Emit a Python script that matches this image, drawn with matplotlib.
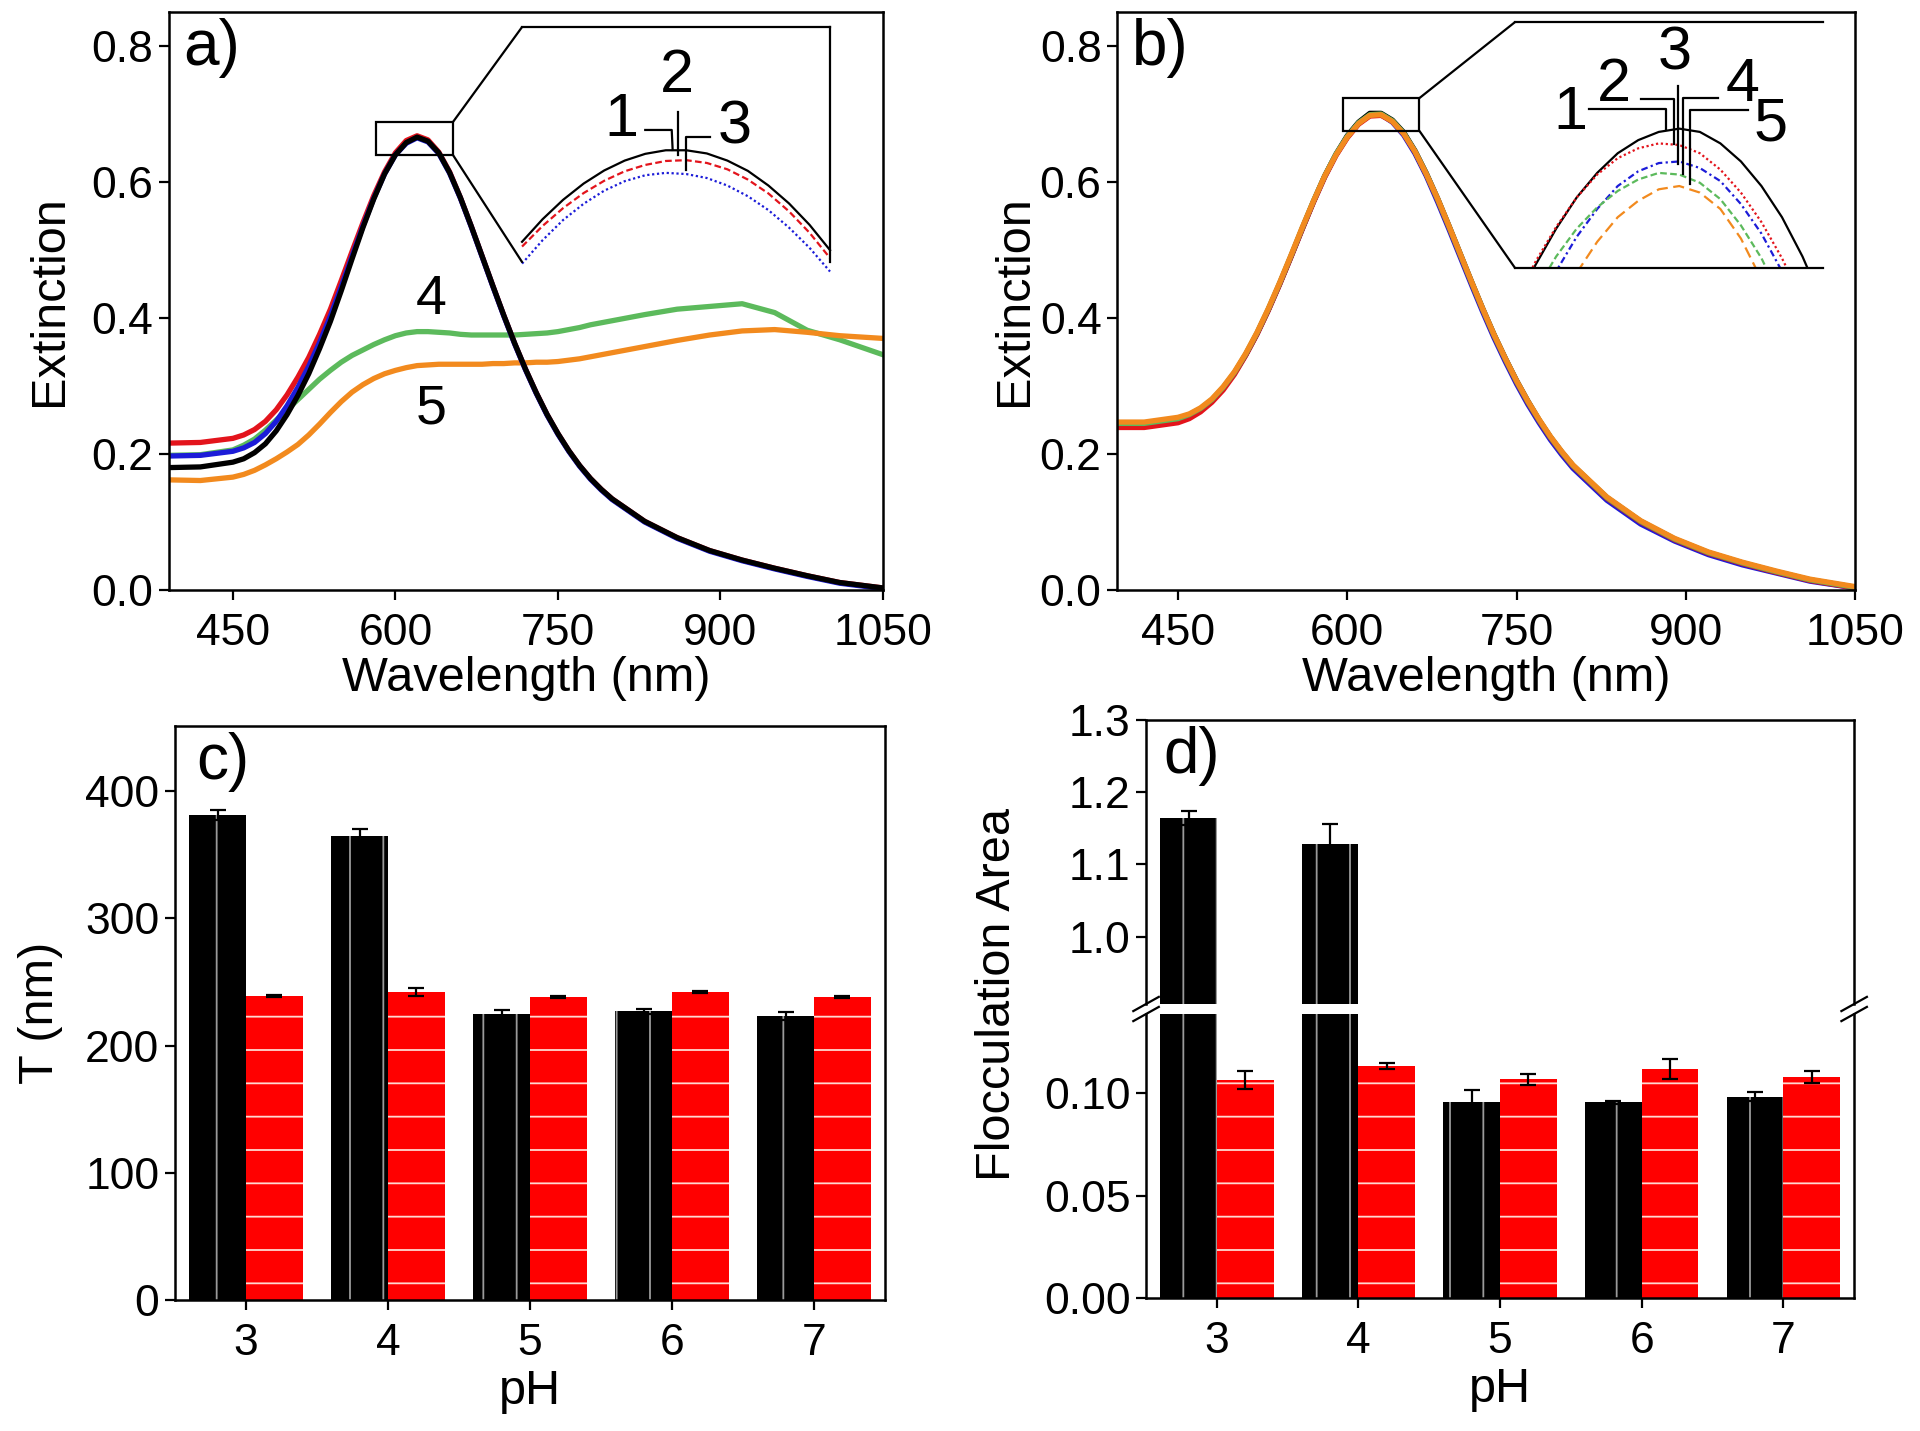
import numpy as np
import matplotlib.pyplot as plt
from matplotlib.patches import Rectangle, ConnectionPatch

plt.rcParams['font.family'] = ['Liberation Sans', 'DejaVu Sans']
plt.rcParams['hatch.linewidth'] = 0.65

# ---------------- spectra (wavelength grid, nm) ----------------
wl = [390, 420, 450, 460, 470, 480, 490, 500, 510, 520, 530, 540, 550, 560, 570, 580,
      590, 600, 610, 620, 630, 640, 650, 660, 670, 680, 690, 700, 710, 720, 730, 740,
      750, 760, 770, 780, 790, 800, 830, 860, 890, 920, 950, 980, 1010, 1050]

# panel a
a1 = [.180, .181, .188, .193, .202, .215, .234, .258, .286, .318, .355, .395, .440, .487, .533, .575,
      .612, .640, .658, .666, .660, .643, .614, .577, .535, .491, .447, .404, .363, .325, .290, .258,
      .230, .205, .183, .164, .148, .134, .101, .077, .058, .044, .032, .021, .011, .003]
a2 = [.216, .217, .223, .228, .236, .248, .265, .287, .313, .342, .376, .413, .455, .498, .540, .580,
      .615, .643, .661, .668, .662, .644, .615, .577, .535, .491, .447, .404, .363, .325, .290, .258,
      .230, .205, .183, .164, .148, .134, .101, .077, .058, .044, .032, .021, .011, .003]
a3 = [.197, .198, .204, .209, .217, .230, .248, .271, .298, .329, .364, .403, .446, .491, .535, .576,
      .612, .640, .657, .665, .659, .642, .613, .576, .534, .490, .446, .403, .362, .324, .289, .257,
      .229, .204, .182, .163, .147, .133, .100, .076, .057, .043, .031, .020, .010, .002]
a4 = [.198, .199, .206, .213, .222, .235, .250, .265, .280, .295, .310, .323, .335, .345, .353, .361,
      .368, .374, .378, .380, .380, .379, .378, .376, .375, .375, .375, .375, .375, .376, .377, .378,
      .380, .383, .386, .390, .393, .396, .405, .413, .417, .421, .408, .382, .368, .346]
a5 = [.162, .161, .166, .170, .176, .184, .193, .203, .214, .228, .244, .261, .277, .291, .302, .311,
      .318, .323, .327, .330, .331, .332, .332, .332, .332, .332, .333, .333, .334, .334, .335, .335,
      .336, .338, .340, .343, .346, .349, .358, .367, .375, .381, .383, .379, .374, .370]

# panel b
b1 = [.244, .244, .251, .257, .266, .279, .297, .319, .346, .377, .412, .450, .490, .531, .571, .609,
      .641, .668, .688, .701, .701, .691, .673, .646, .613, .576, .536, .495, .454, .414, .376, .341,
      .308, .278, .250, .225, .203, .183, .136, .101, .075, .055, .040, .027, .015, .004]
b2 = [.239, .239, .246, .252, .262, .276, .294, .317, .345, .376, .411, .449, .489, .530, .570, .607,
      .639, .665, .685, .697, .698, .689, .671, .644, .611, .574, .534, .493, .452, .412, .374, .339,
      .306, .276, .249, .224, .202, .182, .135, .100, .074, .054, .039, .026, .014, .003]
b3 = [.244, .244, .251, .257, .266, .279, .297, .319, .346, .377, .412, .450, .490, .531, .571, .608,
      .640, .666, .686, .698, .699, .688, .669, .642, .609, .571, .531, .490, .449, .409, .371, .336,
      .303, .273, .246, .221, .199, .179, .132, .097, .072, .052, .037, .025, .013, .003]
b4 = [.245, .245, .252, .258, .267, .280, .298, .320, .347, .378, .413, .451, .491, .532, .572, .609,
      .641, .667, .687, .699, .700, .690, .672, .645, .612, .575, .535, .494, .453, .413, .375, .340,
      .307, .277, .250, .225, .203, .183, .136, .101, .075, .055, .040, .027, .015, .004]
b5 = [.247, .247, .254, .259, .268, .281, .299, .321, .348, .379, .414, .452, .492, .533, .572, .609,
      .640, .666, .686, .698, .699, .689, .671, .645, .612, .576, .536, .495, .454, .414, .376, .341,
      .308, .278, .251, .226, .204, .184, .137, .102, .076, .056, .041, .028, .016, .005]

# zoomed peak regions (insets)
wl_ia = [580, 585, 590, 595, 600, 605, 610, 615, 620, 625, 630, 635, 640, 645, 650, 655]
ia1 = [.6395, .6452, .6501, .6542, .6575, .6600, .6617, .6626, .6626, .6618, .6600, .6574, .6537, .6492, .6438, .6374]
ia2 = [.6383, .6435, .6480, .6518, .6549, .6573, .6589, .6599, .6601, .6594, .6578, .6552, .6517, .6472, .6418, .6354]
ia3 = [.6340, .6399, .6450, .6491, .6524, .6548, .6563, .6569, .6566, .6556, .6537, .6510, .6475, .6431, .6380, .6320]

wl_ib = [592, 596, 600, 604, 608, 612, 616, 620, 624, 628, 632, 636, 640, 644, 648, 652]
ib1 = [.6857, .6882, .6904, .6923, .6938, .6950, .6958, .6963, .6965, .6963, .6956, .6945, .6930, .6911, .6887, .6858]
ib2 = [.6859, .6884, .6905, .6923, .6937, .6947, .6953, .6956, .6955, .6950, .6940, .6926, .6908, .6886, .6860, .6829]
ib3 = [.6823, .6852, .6878, .6899, .6916, .6930, .6939, .6944, .6945, .6941, .6933, .6919, .6901, .6878, .6849, .6816]
ib4 = [.6843, .6866, .6887, .6904, .6917, .6927, .6934, .6938, .6937, .6932, .6922, .6906, .6886, .6860, .6829, .6793]
ib5 = [.6794, .6826, .6853, .6877, .6896, .6911, .6921, .6928, .6930, .6926, .6916, .6898, .6873, .6841, .6802, .6756]

# ---------------- bar data ----------------
ph = [3, 4, 5, 6, 7]
gamma_blk = [381, 365, 225, 227, 223]
gamma_blk_err = [4, 5, 3, 2, 3]
gamma_red = [239, 242, 238, 242, 238]
gamma_red_err = [1, 3, 1, 1, 1]
floc_blk = [1.164, 1.129, 0.0955, 0.0955, 0.0982]
floc_blk_err = [0.010, 0.027, 0.006, 0.0008, 0.0023]
floc_red = [0.1063, 0.1131, 0.1066, 0.1117, 0.1078]
floc_red_err = [0.0045, 0.0015, 0.0025, 0.005, 0.0027]

col = {'k': 'black', 'r': '#e3141c', 'b': '#1c1cd8', 'g': '#5cba5c', 'o': '#f28a1e'}
FS_TICK, FS_LAB, FS_PANEL, FS_NUM = 16, 17.5, 23, 22

fig = plt.figure(figsize=(9.6, 7.155), dpi=200)


def style(ax):
    ax.tick_params(direction='out', length=3.6, width=0.8, labelsize=FS_TICK,
                   top=False, right=False)
    ax.tick_params(axis='y', pad=2)
    ax.tick_params(axis='x', pad=4.5)
    for s in ax.spines.values():
        s.set_linewidth(0.9)


def frame_only(ax, show):
    ax.set_facecolor('none')
    ax.set_xticks([])
    ax.set_yticks([])
    for k, s in ax.spines.items():
        s.set_visible(k in show)
        s.set_linewidth(0.8)


# ---------------- a) ----------------
ax_a = fig.add_axes([0.0880, 0.5877, 0.3719, 0.4039])
style(ax_a)
for y, c in [(a4, col['g']), (a5, col['o']), (a2, col['r']), (a3, col['b']), (a1, col['k'])]:
    ax_a.plot(wl, y, color=c, lw=1.9)
ax_a.set_xlim(391, 1050)
ax_a.set_ylim(0, 0.85)
ax_a.set_xticks([450, 600, 750, 900, 1050])
ax_a.set_yticks([0, 0.2, 0.4, 0.6, 0.8])
ax_a.set_yticklabels(['0.0', '0.2', '0.4', '0.6', '0.8'])
ax_a.set_xlabel('Wavelength (nm)', fontsize=FS_LAB, labelpad=1)
ax_a.set_ylabel('Extinction', fontsize=FS_LAB, labelpad=7)
ax_a.text(0.02, 0.99, 'a)', transform=ax_a.transAxes, ha='left', va='top', fontsize=FS_PANEL)
ax_a.text(633, 0.426, '4', ha='center', va='center', fontsize=20)
ax_a.text(633, 0.265, '5', ha='center', va='center', fontsize=20)
ax_a.add_patch(Rectangle((582, 0.640), 71, 0.048, fill=False, lw=0.8, zorder=5))

ins_a = fig.add_axes([0.2719, 0.8169, 0.1604, 0.1642])
frame_only(ins_a, ('top', 'right'))
ins_a.plot(wl_ia, ia1, color='black', lw=0.8, clip_on=False)
ins_a.plot(wl_ia, ia2, color=col['r'], lw=0.8, ls=(0, (3, 1.5)), clip_on=False)
ins_a.plot(wl_ia, ia3, color=col['b'], lw=0.8, ls=(0, (1, 1.2)), clip_on=False)
ins_a.set_xlim(580, 655)
ins_a.set_ylim(0.6344, 0.6937)
for xy, t in [((0.324, 0.604), '1'), ((0.502, 0.79), '2'), ((0.692, 0.570), '3')]:
    ins_a.text(*xy, t, transform=ins_a.transAxes, ha='center', va='center', fontsize=FS_NUM)
for xs, ys in [([0.40, 0.486, 0.489], [0.562, 0.562, 0.477]),
               ([0.507, 0.507], [0.64, 0.455]),
               ([0.61, 0.532, 0.532], [0.531, 0.531, 0.391])]:
    ins_a.plot(xs, ys, color='black', lw=0.8, transform=ins_a.transAxes, clip_on=False)
for ya, yb in [(0.688, 1), (0.640, 0)]:
    fig.add_artist(ConnectionPatch(xyA=(653, ya), coordsA='data', axesA=ax_a,
                                   xyB=(0, yb), coordsB='axes fraction', axesB=ins_a, lw=0.8))

# ---------------- b) ----------------
ax_b = fig.add_axes([0.5818, 0.5877, 0.3844, 0.4039])
style(ax_b)
for y, c in [(b1, col['k']), (b3, col['b']), (b2, col['r']), (b4, col['g']), (b5, col['o'])]:
    ax_b.plot(wl, y, color=c, lw=1.9)
ax_b.set_xlim(396, 1050)
ax_b.set_ylim(0, 0.85)
ax_b.set_xticks([450, 600, 750, 900, 1050])
ax_b.set_yticks([0, 0.2, 0.4, 0.6, 0.8])
ax_b.set_yticklabels(['0.0', '0.2', '0.4', '0.6', '0.8'])
ax_b.set_xlabel('Wavelength (nm)', fontsize=FS_LAB, labelpad=1)
ax_b.set_ylabel('Extinction', fontsize=FS_LAB, labelpad=1)
ax_b.text(0.02, 0.99, 'b)', transform=ax_b.transAxes, ha='left', va='top', fontsize=FS_PANEL)
ax_b.add_patch(Rectangle((596, 0.675), 68, 0.0485, fill=False, lw=0.8, zorder=5))

ins_b = fig.add_axes([0.7891, 0.8127, 0.1604, 0.1719])
frame_only(ins_b, ('top', 'bottom'))
ins_b.plot(wl_ib, ib1, color='black', lw=0.8)
ins_b.plot(wl_ib, ib2, color=col['r'], lw=0.8, ls=(0, (1, 1.2)))
ins_b.plot(wl_ib, ib3, color=col['b'], lw=0.8, ls=(0, (3, 1.5, 1, 1.5)))
ins_b.plot(wl_ib, ib4, color=col['g'], lw=0.8, ls=(0, (3, 1.5)))
ins_b.plot(wl_ib, ib5, color=col['o'], lw=0.8, ls=(0, (5, 2.5)))
ins_b.set_xlim(592, 652)
ins_b.set_ylim(0.688, 0.703)
for xy, t in [((0.18, 0.63), '1'), ((0.32, 0.74), '2'), ((0.52, 0.87), '3'),
              ((0.74, 0.74), '4'), ((0.83, 0.58), '5')]:
    ins_b.text(*xy, t, transform=ins_b.transAxes, ha='center', va='center', fontsize=FS_NUM)
for xs, ys in [([0.24, 0.49, 0.49], [0.647, 0.647, 0.565]),
               ([0.41, 0.515, 0.515], [0.688, 0.688, 0.504]),
               ([0.53, 0.53], [0.742, 0.423]),
               ([0.66, 0.546, 0.546], [0.692, 0.692, 0.382]),
               ([0.757, 0.568, 0.568], [0.644, 0.644, 0.341])]:
    ins_b.plot(xs, ys, color='black', lw=0.8, transform=ins_b.transAxes, clip_on=False)
for ya, yb in [(0.7235, 1), (0.675, 0)]:
    fig.add_artist(ConnectionPatch(xyA=(664, ya), coordsA='data', axesA=ax_b,
                                   xyB=(0, yb), coordsB='axes fraction', axesB=ins_b, lw=0.8))

# ---------------- c) ----------------
x = np.array(ph)
ax_c = fig.add_axes([0.0911, 0.0915, 0.3698, 0.4011])
style(ax_c)
ax_c.bar(x - 0.2, gamma_blk, 0.4, color='black', edgecolor='#9a9a9a', hatch='|', linewidth=0)
ax_c.bar(x + 0.2, gamma_red, 0.4, color='#ff0000', edgecolor='#ffd8d0', hatch='-', linewidth=0)
ax_c.errorbar(x - 0.2, gamma_blk, yerr=gamma_blk_err, fmt='none', ecolor='black',
              capsize=3, elinewidth=0.8, capthick=0.8)
ax_c.errorbar(x + 0.2, gamma_red, yerr=gamma_red_err, fmt='none', ecolor='black',
              capsize=3, elinewidth=0.8, capthick=0.8)
ax_c.set_xlim(2.5, 7.5)
ax_c.set_ylim(0, 451)
ax_c.set_xticks(ph)
ax_c.set_yticks([0, 100, 200, 300, 400])
ax_c.set_xlabel('pH', fontsize=FS_LAB, labelpad=2)
ax_c.set_ylabel('T (nm)', fontsize=FS_LAB, labelpad=8)
ax_c.text(0.03, 0.99, 'c)', transform=ax_c.transAxes, ha='left', va='top', fontsize=FS_PANEL)

# ---------------- d) broken axis ----------------
ax_du = fig.add_axes([0.5969, 0.2984, 0.3688, 0.1985])
ax_dl = fig.add_axes([0.5969, 0.0929, 0.3688, 0.1985])
for ax in (ax_du, ax_dl):
    style(ax)
    ax.bar(x - 0.2, floc_blk, 0.4, color='black', edgecolor='#9a9a9a', hatch='|', linewidth=0)
    ax.bar(x + 0.2, floc_red, 0.4, color='#ff0000', edgecolor='#ffd8d0', hatch='-', linewidth=0)
    ax.errorbar(x - 0.2, floc_blk, yerr=floc_blk_err, fmt='none', ecolor='black',
                capsize=3, elinewidth=0.8, capthick=0.8)
    ax.errorbar(x + 0.2, floc_red, yerr=floc_red_err, fmt='none', ecolor='black',
                capsize=3, elinewidth=0.8, capthick=0.8)
    ax.set_xlim(2.5, 7.5)
ax_du.set_ylim(0.907, 1.3)
ax_du.set_yticks([1.0, 1.1, 1.2, 1.3])
ax_du.set_yticklabels(['1.0', '1.1', '1.2', '1.3'])
ax_du.set_xticks([])
ax_du.spines['bottom'].set_visible(False)
ax_dl.set_ylim(0, 0.1385)
ax_dl.set_yticks([0, 0.05, 0.10])
ax_dl.set_yticklabels(['0.00', '0.05', '0.10'])
ax_dl.set_xticks(ph)
ax_dl.spines['top'].set_visible(False)
ax_dl.set_xlabel('pH', fontsize=FS_LAB, labelpad=2)
ax_du.text(0.024, 0.98, 'd)', transform=ax_du.transAxes, ha='left', va='top', fontsize=FS_PANEL)
fig.text(0.5195, 0.305, 'Flocculation Area', rotation=90, ha='center', va='center', fontsize=FS_LAB)

# break marks
for ax, y0 in [(ax_du, 0.0), (ax_dl, 1.0)]:
    for x0 in (0.0, 1.0):
        ax.plot([x0 - 0.018, x0 + 0.018], [y0 - 0.025, y0 + 0.025], color='black', lw=0.8,
                transform=ax.transAxes, clip_on=False)

fig.savefig('out.png', dpi=200)
